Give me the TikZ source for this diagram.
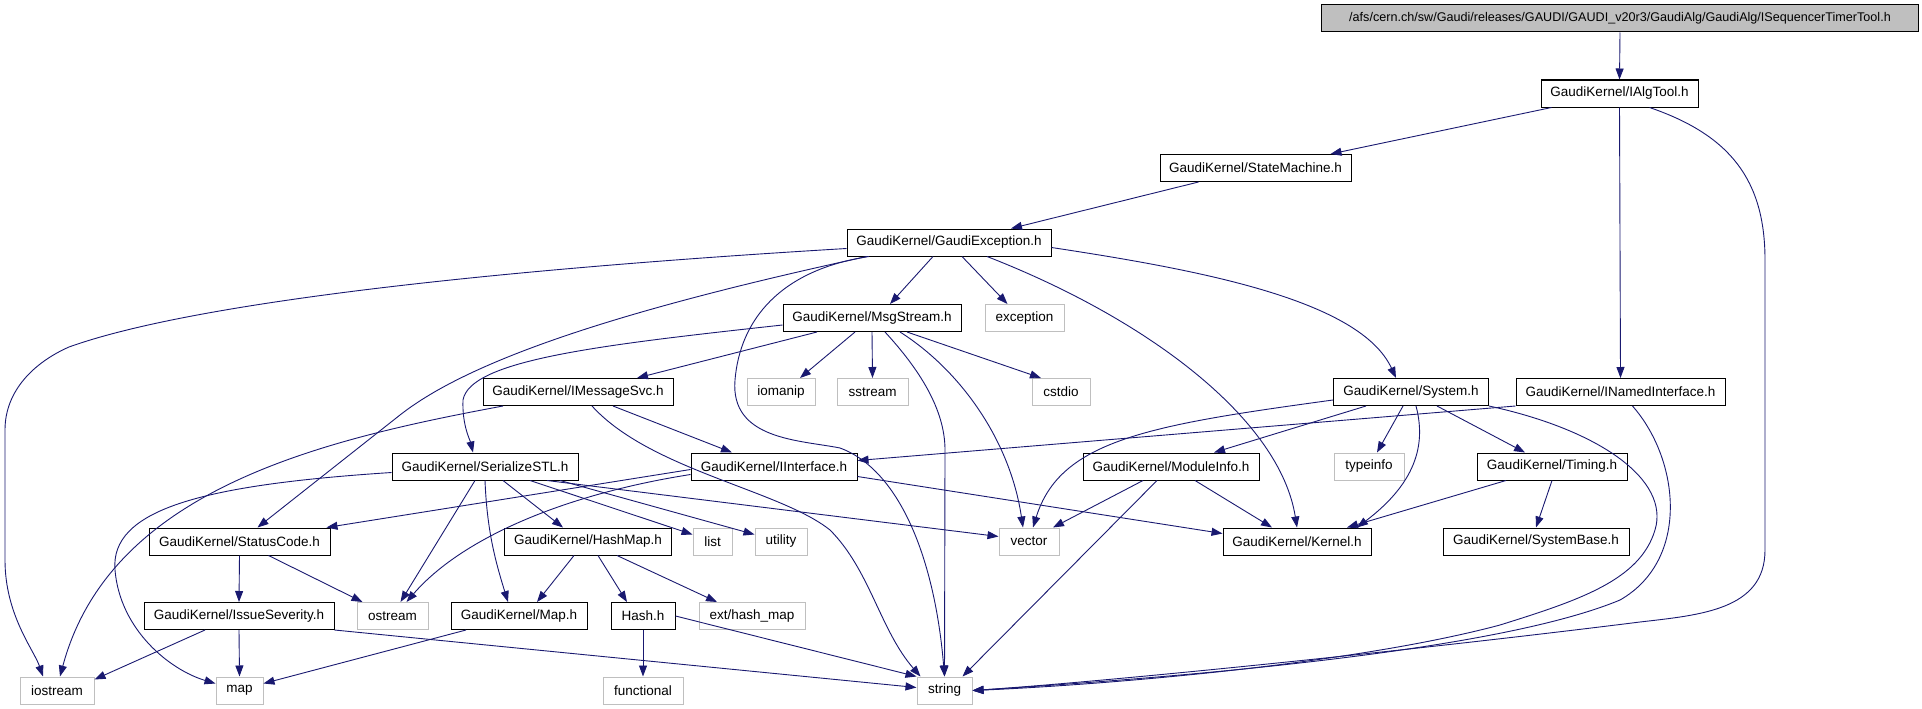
\documentclass[tikz,border=0pt]{standalone}
\usepackage{fontspec}
\setmainfont{Liberation Sans}
\usetikzlibrary{arrows.meta}
\definecolor{midnight}{RGB}{25,25,112}
\definecolor{silver}{RGB}{191,191,191}
\tikzset{
  >={Triangle[length=11pt,width=8pt]},
  hdr/.style={draw=black,fill=white,line width=1pt,minimum height=27pt,inner sep=0pt,
    font=\fontsize{13.5}{15}\selectfont,minimum width=#1},
  sys/.style={hdr=#1,draw=silver},
  root/.style={hdr=#1,fill=silver,font=\fontsize{12.6}{14}\selectfont},
  dep/.style={->,draw=midnight,line width=0.9pt},
}
\begin{document}
\begin{tikzpicture}[x=1pt,y=-1pt]
  \useasboundingbox (0,0) rectangle (1922,709);
  % headers
  \node[root=597pt] (seqtool) at (1620,18.5) {/afs/cern.ch/sw/Gaudi/releases/GAUDI/GAUDI\_v20r3/GaudiAlg/GaudiAlg/ISequencerTimerTool.h};
  \node[hdr=157pt] (ialgtool) at (1619.5,93.5) {GaudiKernel/IAlgTool.h};
  \node[hdr=191pt] (statemach) at (1255.5,168) {GaudiKernel/StateMachine.h};
  \node[hdr=204pt] (gexcept) at (949,242.5) {GaudiKernel/GaudiException.h};
  \node[hdr=178pt] (msgstream) at (872,318) {GaudiKernel/MsgStream.h};
  \node[sys=79pt] (exception) at (1024.5,318) {exception};
  \node[hdr=190pt] (imsgsvc) at (578,392) {GaudiKernel/IMessageSvc.h};
  \node[sys=68pt] (iomanip) at (781,392) {iomanip};
  \node[sys=71pt] (sstream) at (872.5,392) {sstream};
  \node[sys=58pt] (cstdio) at (1061,392) {cstdio};
  \node[hdr=155pt] (system) at (1411,392) {GaudiKernel/System.h};
  \node[hdr=209pt] (inamed) at (1620.5,392) {GaudiKernel/INamedInterface.h};
  \node[hdr=186pt] (serialize) at (485,466.5) {GaudiKernel/SerializeSTL.h};
  \node[hdr=166pt] (iiface) at (774,466.5) {GaudiKernel/IInterface.h};
  \node[hdr=176pt] (modinfo) at (1171,466.5) {GaudiKernel/ModuleInfo.h};
  \node[sys=70pt] (typeinfo) at (1369,466.5) {typeinfo};
  \node[hdr=150pt] (timing) at (1552,466.5) {GaudiKernel/Timing.h};
  \node[hdr=181pt] (statuscode) at (239.5,541.5) {GaudiKernel/StatusCode.h};
  \node[hdr=167pt] (hashmap) at (588,541.5) {GaudiKernel/HashMap.h};
  \node[sys=39pt] (list) at (712.5,541.5) {list};
  \node[sys=52pt] (utility) at (781,541.5) {utility};
  \node[sys=60pt] (vector) at (1029,541.5) {vector};
  \node[hdr=148pt] (kernel) at (1297,541.5) {GaudiKernel/Kernel.h};
  \node[hdr=186pt] (sysbase) at (1536,541.5) {GaudiKernel/SystemBase.h};
  \node[hdr=190pt] (severity) at (239,616) {GaudiKernel/IssueSeverity.h};
  \node[sys=71pt] (ostream) at (392.5,616) {ostream};
  \node[hdr=136pt] (gmap) at (519,616) {GaudiKernel/Map.h};
  \node[hdr=64pt] (hash) at (643,616) {Hash.h};
  \node[sys=106pt] (exthash) at (752,616) {ext/hash\_map};
  \node[sys=74pt] (iostream) at (57,690.5) {iostream};
  \node[sys=47pt] (map) at (239.5,690.5) {map};
  \node[sys=80pt] (functional) at (643,690.5) {functional};
  \node[sys=55pt] (string) at (944.5,690.5) {string};
  % includes
  \draw[dep] (seqtool.south) -- (ialgtool.north);
  \draw[dep] ([xshift=-68pt]ialgtool.south) -- ([xshift=75pt]statemach.north);
  \draw[dep] (ialgtool.south) -- (inamed.north);
  \draw[dep] ([xshift=30pt]ialgtool.south) .. controls (1730,135) and (1765,180) .. (1765,260)
    -- (1765,550) .. controls (1765,610) and (1700,615) .. (1640,622)
    .. controls (1400,652) and (1100,682) .. (string.east);
  \draw[dep] ([xshift=-57pt]statemach.south) -- ([xshift=62pt]gexcept.north);
  \draw[dep] ([yshift=-6pt]gexcept.west) .. controls (520,268) and (200,300) .. (69,347)
    .. controls (35,362) and (5,390) .. (5,430) -- (5,560)
    .. controls (5,615) and (34,650) .. ([xshift=-14pt]iostream.north);
  \draw[dep] ([xshift=-82pt]gexcept.south) .. controls (620,310) and (470,360) .. (400,415)
    -- ([xshift=18pt]statuscode.north);
  \draw[dep] ([xshift=-80pt]gexcept.south) .. controls (780,270) and (740,320) .. (735,380)
    .. controls (730,440) and (800,440) .. (840,448)
    .. controls (900,470) and (935,560) .. (string.north);
  \draw[dep] ([xshift=-16pt]gexcept.south) -- ([xshift=18pt]msgstream.north);
  \draw[dep] ([xshift=13pt]gexcept.south) -- ([xshift=-17pt]exception.north);
  \draw[dep] ([xshift=38pt]gexcept.south) .. controls (1150,320) and (1280,420) .. (kernel.north);
  \draw[dep] ([yshift=-5pt]gexcept.east) .. controls (1200,270) and (1360,300) .. ([xshift=-15pt]system.north);
  \draw[dep] ([yshift=-7pt]msgstream.west) .. controls (600,345) and (470,360) .. (463,400)
    .. controls (462,425) and (470,440) .. ([xshift=-12pt]serialize.north);
  \draw[dep] ([xshift=-55pt]msgstream.south) -- ([xshift=59pt]imsgsvc.north);
  \draw[dep] ([xshift=-17pt]msgstream.south) -- ([xshift=19pt]iomanip.north);
  \draw[dep] (msgstream.south) -- (sstream.north);
  \draw[dep] ([xshift=13pt]msgstream.south) .. controls (920,370) and (945,410) .. (945,450) -- (string.north);
  \draw[dep] ([xshift=28pt]msgstream.south) .. controls (960,370) and (1010,440) .. ([xshift=-6pt]vector.north);
  \draw[dep] ([xshift=35pt]msgstream.south) -- ([xshift=-20pt]cstdio.north);
  \draw[dep] ([xshift=-75pt]imsgsvc.south) .. controls (320,440) and (110,490) .. ([xshift=3pt]iostream.north);
  \draw[dep] ([xshift=35pt]imsgsvc.south) -- ([xshift=-42pt]iiface.north);
  \draw[dep] ([xshift=14pt]imsgsvc.south) .. controls (650,470) and (780,490) .. (830,530)
    .. controls (870,570) and (880,630) .. ([xshift=-24pt]string.north);
  \draw[dep] ([yshift=-6pt]serialize.west) .. controls (200,485) and (110,510) .. (115,570)
    .. controls (120,630) and (170,670) .. ([yshift=7pt]map.west);
  \draw[dep] ([xshift=-10pt]serialize.south) -- ([xshift=8pt]ostream.north);
  \draw[dep] (serialize.south) .. controls (487,530) and (495,560) .. ([xshift=-11pt]gmap.north);
  \draw[dep] ([xshift=18pt]serialize.south) -- ([xshift=-25pt]hashmap.north);
  \draw[dep] ([xshift=45pt]serialize.south) -- ([yshift=7pt]list.west);
  \draw[dep] ([xshift=62pt]serialize.south) -- ([yshift=5pt]vector.west);
  \draw[dep] ([xshift=75pt]serialize.south) -- ([yshift=7pt]utility.west);
  \draw[dep] ([yshift=-3pt]iiface.west) -- ([xshift=-4pt]statuscode.north east);
  \draw[dep] ([yshift=-8pt]iiface.west) .. controls (560,495) and (460,540) .. ([xshift=14pt]ostream.north);
  \draw[dep] ([yshift=-10pt]iiface.east) -- ([yshift=8pt]kernel.west);
  \draw[dep] (inamed.south west) -- ([yshift=6pt]iiface.east);
  \draw[dep] ([xshift=12pt]inamed.south) .. controls (1680,460) and (1690,560) .. (1620,600)
    .. controls (1500,650) and (1200,676) .. (string.east);
  \draw[dep] (system.south east) .. controls (1600,430) and (1670,480) .. (1655,530)
    .. controls (1640,580) and (1580,600) .. (1500,625)
    .. controls (1350,665) and (1100,685) .. (string.east);
  \draw[dep] ([yshift=-8pt]system.west) .. controls (1150,425) and (1060,440) .. ([xshift=4pt]vector.north);
  \draw[dep] ([xshift=-45pt]system.south) -- ([xshift=43pt]modinfo.north);
  \draw[dep] ([xshift=-8pt]system.south) -- ([xshift=8pt]typeinfo.north);
  \draw[dep] ([xshift=5pt]system.south) .. controls (1425,440) and (1420,480) .. ([xshift=60pt]kernel.north);
  \draw[dep] ([xshift=26pt]system.south) -- ([xshift=-27pt]timing.north);
  \draw[dep] ([xshift=-46pt]timing.south) -- ([xshift=50pt]kernel.north);
  \draw[dep] (timing.south) -- (sysbase.north);
  \draw[dep] ([xshift=24pt]modinfo.south) -- ([xshift=-25pt]kernel.north);
  \draw[dep] ([xshift=-28pt]modinfo.south) -- ([xshift=24pt]vector.north);
  \draw[dep] ([xshift=-14pt]modinfo.south) -- ([xshift=18pt]string.north);
  \draw[dep] (statuscode.south) -- (severity.north);
  \draw[dep] ([xshift=29pt]statuscode.south) -- ([xshift=-30pt]ostream.north);
  \draw[dep] ([xshift=-34pt]severity.south) -- ([yshift=-3pt]iostream.north east);
  \draw[dep] (severity.south) -- (map.north);
  \draw[dep] (severity.south east) -- ([yshift=3pt]string.west);
  \draw[dep] ([xshift=-14pt]hashmap.south) -- ([xshift=18pt]gmap.north);
  \draw[dep] ([xshift=10pt]hashmap.south) -- ([xshift=-16pt]hash.north);
  \draw[dep] ([xshift=29pt]hashmap.south) -- ([xshift=-35pt]exthash.north);
  \draw[dep] ([xshift=-53pt]gmap.south) -- ([yshift=7pt]map.east);
  \draw[dep] (hash.south) -- (functional.north);
  \draw[dep] (hash.east) -- (string.north west);
\end{tikzpicture}
\end{document}
